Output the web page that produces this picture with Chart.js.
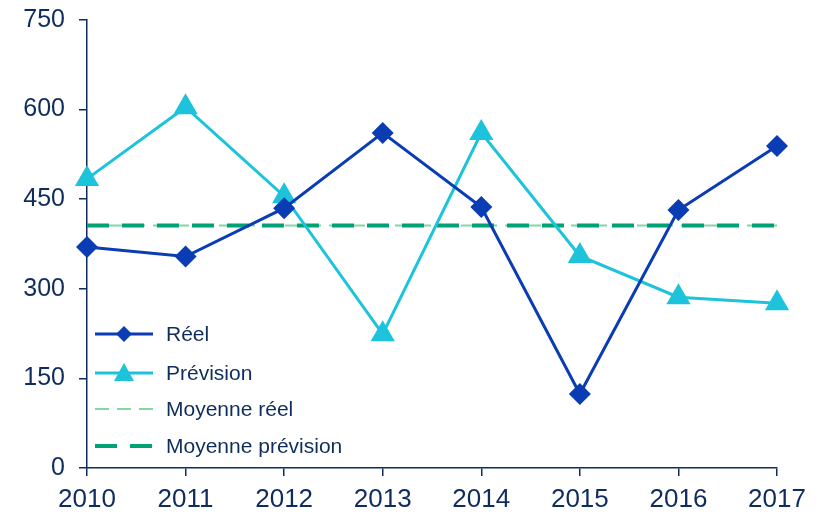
<!DOCTYPE html>
<html>
<head>
<meta charset="utf-8">
<script src="https://cdn.jsdelivr.net/npm/chart.js@4"></script>
<style>
  html, body { margin: 0; padding: 0; background: #fff; }
  #wrap { width: 819px; height: 521px; }
</style>
</head>
<body>
<div id="wrap"><canvas id="graf"></canvas></div>
<script>
const annees = ['2010', '2011', '2012', '2013', '2014', '2015', '2016', '2017'];
const reel = [370, 354, 435, 561, 437, 124, 432, 539];
const prevision = [484, 604, 455, 224, 561, 355, 286, 276];
const moyReel = [406, 406, 406, 406, 406, 406, 406, 406];
const moyPrev = [406, 406, 406, 406, 406, 406, 406, 406];
const yTicks = [0, 150, 300, 450, 600, 750];

const marine = '#0e2c5e';

// legende dans la zone du graphique, en bas a gauche
const legendeInterne = {
  id: 'legendeInterne',
  afterDraw(chart) {
    const ctx = chart.ctx;
    const lignes = [334, 373, 409, 446];
    chart.data.datasets.forEach((ds, i) => {
      const y = lignes[i];
      ctx.save();
      ctx.strokeStyle = ds.borderColor;
      ctx.lineWidth = ds.borderWidth;
      ctx.setLineDash(ds.borderDash || []);
      ctx.beginPath();
      ctx.moveTo(95, y);
      ctx.lineTo(153, y);
      ctx.stroke();
      ctx.setLineDash([]);
      ctx.fillStyle = ds.pointBackgroundColor || ds.borderColor;
      if (ds.pointStyle === 'rectRot') {
        ctx.beginPath();
        ctx.moveTo(124, y - 8); ctx.lineTo(132, y); ctx.lineTo(124, y + 8); ctx.lineTo(116, y);
        ctx.closePath(); ctx.fill();
      } else if (ds.pointStyle === 'triangle') {
        ctx.beginPath();
        ctx.moveTo(124, y - 10); ctx.lineTo(134, y + 8); ctx.lineTo(114, y + 8);
        ctx.closePath(); ctx.fill();
      }
      ctx.fillStyle = marine;
      ctx.font = '21px "Liberation Sans", Arial, sans-serif';
      ctx.textBaseline = 'middle';
      ctx.fillText(ds.label, 166, y + 1);
      ctx.restore();
    });
  }
};

new Chart(document.getElementById('graf'), {
  type: 'line',
  data: {
    labels: annees,
    datasets: [
      {
        label: 'Réel',
        data: reel,
        borderColor: '#0a3cb4',
        backgroundColor: '#0a3cb4',
        pointBackgroundColor: '#0a3cb4',
        borderWidth: 3,
        pointStyle: 'rectRot',
        pointRadius: 11,
        pointBorderWidth: 0,
        tension: 0,
        order: 1
      },
      {
        label: 'Prévision',
        data: prevision,
        borderColor: '#1cc3db',
        backgroundColor: '#1cc3db',
        pointBackgroundColor: '#1cc3db',
        borderWidth: 3,
        pointStyle: 'triangle',
        pointRadius: 14,
        pointBorderWidth: 0,
        tension: 0,
        order: 2
      },
      {
        label: 'Moyenne réel',
        data: moyReel,
        borderColor: '#86d6a2',
        borderWidth: 2,
        borderDash: [14, 8],
        pointRadius: 0,
        order: 4
      },
      {
        label: 'Moyenne prévision',
        data: moyPrev,
        borderColor: '#00a174',
        borderWidth: 4,
        borderDash: [22, 13],
        pointRadius: 0,
        order: 3
      }
    ]
  },
  options: {
    responsive: true,
    maintainAspectRatio: false,
    animation: false,
    layout: { padding: { top: 20, right: 42, left: 0, bottom: 0 } },
    plugins: {
      legend: { display: false },
      tooltip: { enabled: false }
    },
    scales: {
      x: {
        offset: false,
        grid: { drawOnChartArea: false, tickLength: 8, color: marine, lineWidth: 1.5 },
        border: { color: marine, width: 1.5 },
        ticks: {
          color: marine,
          padding: 8,
          maxRotation: 0,
          font: { family: '"Liberation Sans", Arial, sans-serif', size: 26 }
        },
        afterFit(scale) { scale.height = 53; scale.paddingLeft = 0; scale.paddingRight = 0; }
      },
      y: {
        min: 0,
        max: 750,
        afterBuildTicks(scale) { scale.ticks = yTicks.map(v => ({ value: v })); },
        grid: { drawOnChartArea: false, tickLength: 8, color: marine, lineWidth: 1.5 },
        border: { color: marine, width: 1.5 },
        ticks: {
          color: marine,
          padding: 14,
          font: { family: '"Liberation Sans", Arial, sans-serif', size: 25 }
        },
        afterFit(scale) { scale.width = 87; scale.paddingTop = 0; scale.paddingBottom = 0; }
      }
    }
  },
  plugins: [legendeInterne]
});
</script>
</body>
</html>
